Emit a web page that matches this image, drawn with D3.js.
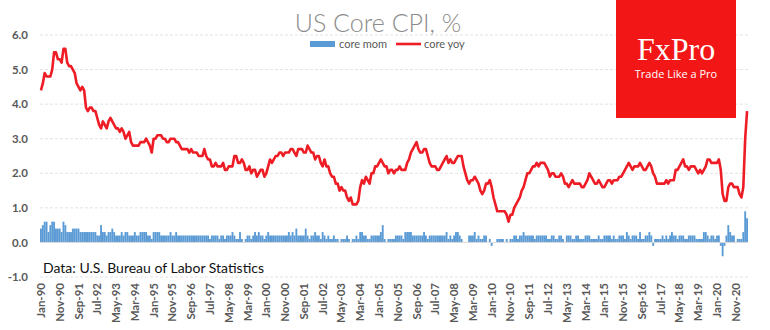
<!DOCTYPE html>
<html>
<head>
<meta charset="utf-8">
<script src="https://cdn.jsdelivr.net/npm/d3@7"></script>
<style>
  body { margin: 0; background: #fff; }
  svg { display: block; }
</style>
</head>
<body>
<svg id="chart"></svg>
<script>

// ---------------------------
// Data (monthly, Jan-90 .. May-21)
// ---------------------------

const coreYoy = [
    4.4,4.6,4.9,4.8,4.8,4.8,5.0,5.5,5.5,5.3,5.3,5.2,   // 1990
    5.6,5.6,5.2,5.1,5.1,5.0,4.9,4.6,4.5,4.4,4.5,4.4,   // 1991
    3.9,3.8,3.9,3.9,3.8,3.8,3.6,3.4,3.3,3.5,3.4,3.3,   // 1992
    3.5,3.6,3.5,3.4,3.3,3.3,3.2,3.3,3.2,3.0,3.1,3.2,   // 1993
    2.9,2.8,2.8,2.8,2.8,2.9,2.9,2.9,3.0,2.9,2.8,2.6,   // 1994
    3.0,3.0,3.1,3.1,3.1,3.0,3.0,2.9,2.9,3.0,3.0,3.0,   // 1995
    2.9,2.9,2.8,2.7,2.7,2.7,2.7,2.6,2.7,2.6,2.6,2.6,   // 1996
    2.5,2.5,2.5,2.7,2.5,2.4,2.4,2.2,2.2,2.3,2.2,2.2,   // 1997
    2.2,2.3,2.1,2.1,2.2,2.2,2.2,2.5,2.5,2.3,2.3,2.4,   // 1998
    2.3,2.1,2.1,2.2,2.0,2.1,2.1,1.9,2.0,2.1,2.1,1.9,   // 1999
    2.0,2.2,2.4,2.3,2.4,2.5,2.5,2.6,2.6,2.5,2.6,2.6,   // 2000
    2.6,2.7,2.7,2.6,2.5,2.7,2.7,2.7,2.6,2.6,2.8,2.7,   // 2001
    2.6,2.6,2.4,2.5,2.5,2.3,2.2,2.4,2.2,2.2,2.0,1.9,   // 2002
    1.9,1.7,1.7,1.5,1.6,1.5,1.5,1.3,1.2,1.3,1.1,1.1,   // 2003
    1.1,1.2,1.6,1.8,1.7,1.9,1.8,1.7,2.0,2.0,2.2,2.2,   // 2004
    2.3,2.4,2.3,2.2,2.2,2.0,2.1,2.1,2.0,2.1,2.1,2.2,   // 2005
    2.1,2.1,2.1,2.3,2.4,2.6,2.7,2.8,2.9,2.7,2.6,2.6,   // 2006
    2.7,2.7,2.5,2.3,2.2,2.2,2.2,2.1,2.1,2.2,2.3,2.4,   // 2007
    2.5,2.3,2.4,2.3,2.3,2.4,2.5,2.5,2.5,2.2,2.0,1.8,   // 2008
    1.7,1.8,1.8,1.9,1.8,1.7,1.5,1.4,1.5,1.7,1.7,1.8,   // 2009
    1.6,1.3,1.1,0.9,0.9,0.9,0.9,0.9,0.8,0.6,0.8,0.8,   // 2010
    1.0,1.1,1.2,1.3,1.5,1.6,1.8,2.0,2.0,2.1,2.2,2.2,   // 2011
    2.3,2.2,2.3,2.3,2.3,2.2,2.1,1.9,2.0,2.0,1.9,1.9,   // 2012
    1.9,2.0,1.9,1.7,1.7,1.6,1.7,1.8,1.7,1.7,1.7,1.7,   // 2013
    1.6,1.6,1.7,1.8,2.0,1.9,1.8,1.7,1.7,1.8,1.7,1.6,   // 2014
    1.6,1.7,1.8,1.8,1.7,1.8,1.8,1.8,1.9,1.9,2.0,2.1,   // 2015
    2.2,2.3,2.2,2.1,2.2,2.2,2.2,2.3,2.2,2.1,2.1,2.2,   // 2016
    2.3,2.2,2.0,1.9,1.7,1.7,1.7,1.7,1.7,1.8,1.7,1.8,   // 2017
    1.8,1.8,2.1,2.1,2.2,2.3,2.4,2.2,2.2,2.1,2.2,2.2,   // 2018
    2.2,2.1,2.0,2.1,2.0,2.1,2.2,2.4,2.4,2.3,2.3,2.3,   // 2019
    2.3,2.4,2.1,1.4,1.2,1.2,1.6,1.7,1.7,1.6,1.6,1.6,   // 2020
    1.4,1.3,1.6,3.0,3.8                                // 2021
];

const coreMom = [
    0.4,0.5,0.6,0.6,0.3,0.5,0.6,0.6,0.4,0.4,0.4,0.3,   // 1990
    0.6,0.5,0.3,0.3,0.3,0.4,0.4,0.4,0.4,0.3,0.3,0.3,   // 1991
    0.3,0.3,0.3,0.3,0.3,0.3,0.2,0.2,0.5,0.3,0.3,0.2,   // 1992
    0.3,0.3,0.4,0.3,0.2,0.2,0.2,0.3,0.2,0.3,0.3,0.2,   // 1993
    0.2,0.2,0.3,0.2,0.2,0.3,0.3,0.3,0.3,0.2,0.2,0.1,   // 1994
    0.3,0.3,0.3,0.3,0.2,0.2,0.2,0.2,0.2,0.3,0.2,0.2,   // 1995
    0.3,0.2,0.2,0.2,0.2,0.2,0.2,0.2,0.2,0.2,0.2,0.2,   // 1996
    0.2,0.2,0.2,0.2,0.2,0.2,0.1,0.2,0.2,0.2,0.2,0.1,   // 1997
    0.2,0.2,0.1,0.2,0.2,0.2,0.3,0.2,0.1,0.1,0.3,0.1,   // 1998
    0.0,0.1,0.2,0.2,0.1,0.2,0.3,0.2,0.3,0.2,0.2,0.1,   // 1999
    0.2,0.3,0.2,0.2,0.2,0.2,0.2,0.2,0.2,0.2,0.2,0.2,   // 2000
    0.3,0.2,0.3,0.2,0.4,0.2,0.2,0.2,0.2,0.4,0.2,0.1,   // 2001
    0.2,0.2,0.3,0.2,0.2,0.1,0.3,0.2,0.1,0.2,0.1,0.1,   // 2002
    0.2,0.1,0.1,0.0,0.1,0.1,0.1,0.2,0.1,0.0,0.1,0.1,   // 2003
    0.2,0.1,0.3,0.3,0.2,0.2,0.1,0.1,0.2,0.2,0.2,0.2,   // 2004
    0.2,0.3,0.5,0.1,0.0,0.1,0.1,0.1,0.1,0.2,0.2,0.2,   // 2005
    0.2,0.1,0.3,0.3,0.3,0.3,0.2,0.2,0.2,0.2,0.2,0.2,   // 2006
    0.3,0.2,0.1,0.2,0.2,0.2,0.2,0.2,0.2,0.2,0.2,0.2,   // 2007
    0.3,0.1,0.2,0.1,0.2,0.3,0.3,0.2,0.1,0.0,0.0,0.0,   // 2008
    0.2,0.2,0.2,0.3,0.1,0.2,0.1,0.1,0.2,0.2,0.0,0.1,   // 2009
    -0.1,0.0,0.0,0.1,0.1,0.1,0.1,0.0,0.1,0.0,0.1,0.1,  // 2010
    0.2,0.2,0.1,0.2,0.2,0.3,0.2,0.2,0.2,0.2,0.2,0.1,   // 2011
    0.2,0.2,0.2,0.2,0.2,0.2,0.1,0.1,0.2,0.2,0.1,0.1,   // 2012
    0.2,0.2,0.1,0.0,0.2,0.2,0.2,0.1,0.1,0.2,0.2,0.1,   // 2013
    0.1,0.1,0.2,0.2,0.2,0.1,0.1,0.1,0.1,0.2,0.1,0.1,   // 2014
    0.2,0.2,0.2,0.2,0.1,0.2,0.1,0.1,0.2,0.2,0.2,0.1,   // 2015
    0.3,0.2,0.1,0.2,0.2,0.2,0.1,0.3,0.1,0.1,0.2,0.2,   // 2016
    0.3,0.2,-0.1,0.1,0.1,0.1,0.1,0.2,0.1,0.2,0.1,0.2,  // 2017
    0.3,0.2,0.2,0.1,0.2,0.2,0.2,0.1,0.1,0.2,0.2,0.2,   // 2018
    0.2,0.1,0.1,0.1,0.1,0.3,0.3,0.2,0.1,0.2,0.2,0.1,   // 2019
    0.2,0.2,-0.1,-0.4,-0.1,0.2,0.5,0.3,0.2,0.2,0.0,0.1,// 2020
    0.1,0.1,0.3,0.9,0.7                                // 2021
];

const tickLabels = [
    "Jan-90","Nov-90","Sep-91","Jul-92","May-93","Mar-94","Jan-95","Nov-95",
    "Sep-96","Jul-97","May-98","Mar-99","Jan-00","Nov-00","Sep-01","Jul-02",
    "May-03","Mar-04","Jan-05","Nov-05","Sep-06","Jul-07","May-08","Mar-09",
    "Jan-10","Nov-10","Sep-11","Jul-12","May-13","Mar-14","Jan-15","Nov-15",
    "Sep-16","Jul-17","May-18","Mar-19","Jan-20","Nov-20"
];

const yTicks = [-1, 0, 1, 2, 3, 4, 5, 6];

// month categories "Jan-90" ... "May-21"
const fmtMonth = d3.timeFormat("%b-%y");
const months = d3.timeMonth
    .range(new Date(1990, 0, 1), new Date(2021, 5, 1))
    .map(fmtMonth);

const rows = months.map((m, i) => ({ month: m, mom: coreMom[i], yoy: coreYoy[i] }));

// ---------------------------
// Create SVG
// ---------------------------

const width = 770;
const height = 330;

const svg = d3.select("#chart")
    .attr("width", width)
    .attr("height", height);

const plotLeft = 40, plotRight = 748, plotTop = 35, plotBottom = 277;

const x = d3.scaleBand()
    .domain(months)
    .range([plotLeft, plotRight])
    .padding(0);

const y = d3.scaleLinear()
    .domain([-1, 6])
    .range([plotBottom, plotTop]);

const grey = "#595959";

// gridlines
svg.append("g")
    .selectAll("line")
    .data(yTicks.filter(d => d !== 0))
    .join("line")
    .attr("x1", plotLeft)
    .attr("x2", plotRight)
    .attr("y1", d => y(d))
    .attr("y2", d => y(d))
    .attr("stroke", "#e3e3e3")
    .attr("stroke-width", 1)
    .attr("stroke-dasharray", "3,2");

// monthly change bars
svg.append("g")
    .selectAll("rect")
    .data(rows)
    .join("rect")
    .attr("x", d => x(d.month))
    .attr("width", x.bandwidth())
    .attr("y", d => y(Math.max(0, d.mom)))
    .attr("height", d => Math.abs(y(d.mom) - y(0)))
    .attr("fill", "#5b9bd5");

// zero line
svg.append("line")
    .attr("x1", plotLeft)
    .attr("x2", plotRight)
    .attr("y1", y(0))
    .attr("y2", y(0))
    .attr("stroke", "#d9d9d9")
    .attr("stroke-width", 1);

// year-on-year line
const line = d3.line()
    .x(d => x(d.month) + x.bandwidth() / 2)
    .y(d => y(d.yoy));

svg.append("path")
    .datum(rows)
    .attr("d", line)
    .attr("fill", "none")
    .attr("stroke", "#ee1c25")
    .attr("stroke-width", 2.6)
    .attr("stroke-linejoin", "round");

// ---------------------------
// Axes
// ---------------------------

const yAxis = svg.append("g")
    .attr("transform", `translate(${plotLeft - 12},0)`)
    .call(d3.axisLeft(y).tickValues(yTicks).tickSize(0).tickFormat(d => d.toFixed(1)));

yAxis.select(".domain").remove();
yAxis.selectAll("text")
    .attr("x", 0)
    .attr("fill", grey)
    .style("font-family", "Lato, 'Open Sans', sans-serif")
    .style("font-weight", "bold")
    .style("font-size", "11.5px");

const xAxis = svg.append("g")
    .attr("transform", `translate(0,${plotBottom + 6})`)
    .call(d3.axisBottom(x).tickValues(tickLabels).tickSize(0));

xAxis.select(".domain").remove();
xAxis.selectAll("text")
    .attr("transform", "rotate(-90)")
    .attr("x", 0)
    .attr("y", 0)
    .attr("dy", "0.35em")
    .attr("text-anchor", "end")
    .attr("fill", grey)
    .style("font-family", "Lato, 'Open Sans', sans-serif")
    .style("font-weight", "bold")
    .style("font-size", "11.5px");

// ---------------------------
// Title, legend, source
// ---------------------------

svg.append("text")
    .attr("x", 378)
    .attr("y", 32)
    .attr("text-anchor", "middle")
    .attr("fill", "#8c8c8c")
    .style("font-family", "Lato, 'Open Sans', sans-serif")
    .style("font-weight", 300)
    .style("font-size", "25px")
    .text("US Core CPI, %");

const legend = svg.append("g")
    .style("font-family", "Lato, 'Open Sans', sans-serif")
    .style("font-size", "11px")
    .attr("fill", grey);

legend.append("rect")
    .attr("x", 310).attr("y", 41)
    .attr("width", 25).attr("height", 6)
    .attr("fill", "#5b9bd5");

legend.append("text")
    .attr("x", 339).attr("y", 48)
    .text("core mom");

legend.append("line")
    .attr("x1", 396).attr("x2", 421)
    .attr("y1", 44).attr("y2", 44)
    .attr("stroke", "#ee1c25")
    .attr("stroke-width", 2.6);

legend.append("text")
    .attr("x", 424).attr("y", 48)
    .text("core yoy");

svg.append("text")
    .attr("x", 43)
    .attr("y", 273)
    .attr("fill", "#111")
    .style("font-family", "Lato, 'Open Sans', sans-serif")
    .style("font-size", "14px")
    .text("Data: U.S. Bureau of Labor Statistics");

// ---------------------------
// Logo
// ---------------------------

const logo = svg.append("g");

logo.append("rect")
    .attr("x", 616).attr("y", 0)
    .attr("width", 120).attr("height", 118)
    .attr("fill", "#f21616");

logo.append("text")
    .attr("x", 676).attr("y", 60)
    .attr("text-anchor", "middle")
    .attr("fill", "#fff")
    .style("font-family", "'Liberation Serif', 'DejaVu Serif', serif")
    .style("font-size", "32px")
    .text("FxPro");

logo.append("text")
    .attr("x", 676).attr("y", 78)
    .attr("text-anchor", "middle")
    .attr("fill", "#fff")
    .style("font-family", "'Open Sans', sans-serif")
    .style("font-size", "11px")
    .text("Trade Like a Pro");

</script>
</body>
</html>
